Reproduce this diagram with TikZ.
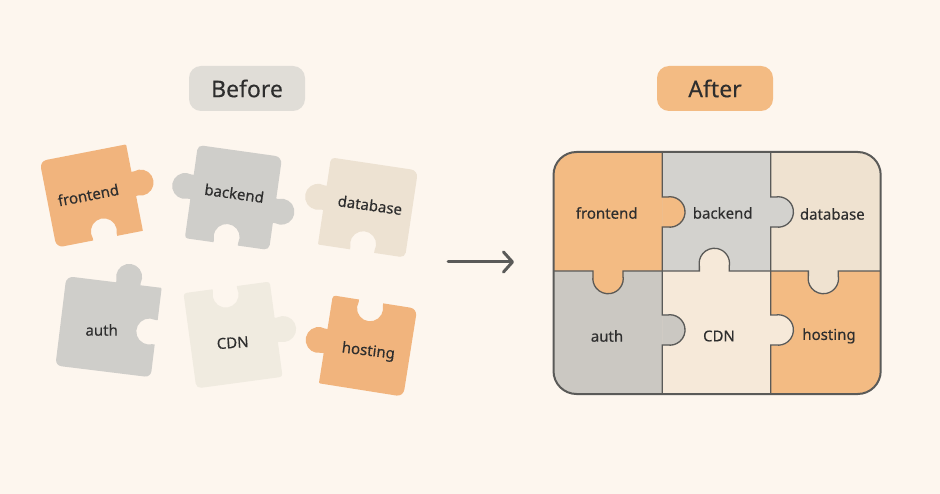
\documentclass[tikz,border=0pt]{standalone}
\usepackage{fontspec}
\setmainfont{Noto Sans}
\usetikzlibrary{arrows.meta}
\definecolor{page_bg}{HTML}{FDF6EE}
\definecolor{ink}{HTML}{2E2E2E}
\definecolor{board_ink}{HTML}{5A5A58}
\definecolor{loose_orange}{HTML}{F1B47D}
\definecolor{loose_grey}{HTML}{CFCECA}
\definecolor{loose_sand}{HTML}{EDE2D2}
\definecolor{loose_cream}{HTML}{F0EBE0}
\definecolor{cell_orange}{HTML}{F3BB83}
\definecolor{cell_grey}{HTML}{D3D2CE}
\definecolor{cell_sand}{HTML}{EFE2D0}
\definecolor{cell_dark}{HTML}{CBC8C2}
\definecolor{cell_cream}{HTML}{F6E9D9}
\definecolor{tag_grey}{HTML}{E0DDD7}
\tikzstyle{piece_label}=[text=ink,font=\fontsize{15}{18}\selectfont\addfontfeature{FakeBold=0.3},inner sep=0pt]
\tikzstyle{tag}=[text=ink,font=\fontsize{23}{28}\selectfont\addfontfeature{FakeBold=0.3},rounded corners=12pt,minimum width=116pt,minimum height=45pt,inner sep=0pt]
\tikzstyle{board_line}=[draw=board_ink,line width=1.3pt]
\tikzstyle{board_tab}=[line width=0.8pt]
\tikzstyle{transition}=[-{Straight Barb[length=9pt,width=20pt,round]},draw=board_ink,line width=3pt,line cap=round]
% one side of a loose piece: heading, length, (tab offset,) start and end corner radius
\newcommand{\sideflat}[4]{-- ++(#1:#2-#3-#4) arc (#1+90:#1:#4)}
\newcommand{\sideknob}[5]{-- ++(#1:#2/2+#3-12.2-#4) -- ++(#1+90:2.5) arc (#1+180+20:#1-20:13) -- ++(#1-90:2.5) -- ++(#1:#2/2-#3-12.2-#5) arc (#1+90:#1:#5)}
\newcommand{\sidenotch}[5]{-- ++(#1:#2/2+#3-12.2-#4) -- ++(#1-90:2.5) arc (#1+180-20:#1+360+20:13) -- ++(#1+90:2.5) -- ++(#1:#2/2-#3-12.2-#5) arc (#1+90:#1:#5)}
% tabs of the assembled board
\newcommand{\boardknob}[1]{-- ++(#1+90:4.9) arc (#1+180+10:#1-10:15.2) -- ++(#1-90:4.9)}
\newcommand{\boardnotch}[1]{-- ++(#1-90:4.9) arc (#1+180-10:#1+360+10:15.2) -- ++(#1+90:4.9)}
\begin{document}
\begin{tikzpicture}[x=1pt,y=1pt]
	\useasboundingbox (0,0) rectangle (940,-494);
	\fill [page_bg] (0,0) rectangle (940,-494);

	% before
	\begin{scope}[shift={(91.3,-196)},rotate=11]
		\fill [loose_orange] (-37,44) \sideflat{0}{88}{7}{1} \sideknob{-90}{88}{-3.8}{1}{0.5} \sidenotch{180}{88}{-5.6}{0.5}{7} \sideflat{90}{88}{7}{7} -- cycle;
	\end{scope}
	\begin{scope}[shift={(233.5,-197.5)},rotate=-8]
		\fill [loose_grey] (-37.5,47) \sideflat{0}{85}{5}{7} \sideknob{-90}{94}{7.4}{7}{5} \sidenotch{180}{85}{1.3}{5}{3} \sideknob{90}{94}{4.7}{3}{5} -- cycle;
	\end{scope}
	\begin{scope}[shift={(368,-207.5)},rotate=-8.5]
		\fill [loose_sand] (-40,44) \sideflat{0}{88}{4}{7} \sideflat{-90}{88}{7}{5} \sidenotch{180}{88}{-0.6}{5}{1} \sideknob{90}{88}{3.2}{1}{4} -- cycle;
	\end{scope}
	\begin{scope}[shift={(108.5,-326.7)},rotate=-7]
		\fill [loose_grey] (-41,45) \sideknob{0}{96}{14.4}{7}{1} \sidenotch{-90}{90}{-0.2}{1}{6} \sideflat{180}{96}{6}{6} \sideflat{90}{90}{6}{7} -- cycle;
	\end{scope}
	\begin{scope}[shift={(233,-335)},rotate=7.7]
		\fill [loose_cream] (-40.5,48) \sidenotch{0}{87}{-1.9}{3}{3} \sideknob{-90}{96}{0.8}{3}{3} \sideflat{180}{87}{3}{5} \sideflat{90}{96}{5}{3} -- cycle;
	\end{scope}
	\begin{scope}[shift={(368,-346)},rotate=-9]
		\fill [loose_orange] (-39.7,44.5) \sidenotch{0}{85.4}{-3.9}{3}{7} \sideflat{-90}{89}{7}{7} \sideflat{180}{85.4}{7}{1} \sideknob{90}{89}{-1.8}{1}{3} -- cycle;
	\end{scope}

	\node [style=tag,fill=tag_grey] (before) at (247,-88.5) {Before};
	\node [style=piece_label,rotate=11] (frontend_loose) at (88.3,-195) {frontend};
	\node [style=piece_label,rotate=-8] (backend_loose) at (234.3,-193.3) {backend};
	\node [style=piece_label,rotate=-8] (database_loose) at (370,-205) {database};
	\node [style=piece_label] (auth_loose) at (101.7,-330) {auth};
	\node [style=piece_label,rotate=4] (cdn_loose) at (232.7,-342.7) {CDN};
	\node [style=piece_label,rotate=-7] (hosting_loose) at (368.3,-351.7) {hosting};

	\coordinate (arrow_start) at (448,-262);
	\coordinate (arrow_end) at (514,-262);
	\draw [style=transition] (arrow_start) to (arrow_end);

	% after
	\begin{scope}
		\clip [rounded corners=23pt] (553.5,-152) rectangle (880.7,-394);
		\fill [cell_orange] (553.5,-152) rectangle (662.3,-271);
		\fill [cell_grey] (662.3,-152) rectangle (770.7,-271);
		\fill [cell_sand] (770.7,-152) rectangle (880.7,-271);
		\fill [cell_dark] (553.5,-271) rectangle (662.3,-394);
		\fill [cell_cream] (662.3,-271) rectangle (770.7,-394);
		\fill [cell_orange] (770.7,-271) rectangle (880.7,-394);
		\filldraw [style=board_tab,cell_orange] (662.3,-197) \boardknob{-90} -- cycle;
		\filldraw [style=board_tab,cell_grey] (770.7,-197) \boardknob{-90} -- cycle;
		\filldraw [style=board_tab,cell_dark] (662.3,-315) \boardknob{-90} -- cycle;
		\filldraw [style=board_tab,cell_cream] (770.7,-315) \boardknob{-90} -- cycle;
		\filldraw [style=board_tab,cell_sand] (838.3,-271) \boardknob{180} -- cycle;
		\filldraw [style=board_tab,cell_cream] (729.3,-271) \boardnotch{180} -- cycle;
		\filldraw [style=board_tab,cell_orange] (623,-271) \boardknob{180} -- cycle;
	\end{scope}
	\draw [style=board_line] (662.3,-152) -- (662.3,-197) \boardknob{-90} -- (662.3,-315) \boardknob{-90} -- (662.3,-394);
	\draw [style=board_line] (770.7,-152) -- (770.7,-197) \boardknob{-90} -- (770.7,-315) \boardknob{-90} -- (770.7,-394);
	\draw [style=board_line] (880.7,-271) -- (838.3,-271) \boardknob{180} -- (729.3,-271) \boardnotch{180} -- (623,-271) \boardknob{180} -- (553.5,-271);
	\draw [style=board_line,line width=2pt,rounded corners=23pt] (553.5,-152) rectangle (880.7,-394);

	\node [style=tag,fill=cell_orange] (after) at (715,-88.5) {After};
	\node [style=piece_label] (frontend_cell) at (606.7,-213) {frontend};
	\node [style=piece_label] (backend_cell) at (722.7,-213) {backend};
	\node [style=piece_label] (database_cell) at (832.3,-214) {database};
	\node [style=piece_label] (auth_cell) at (607,-336) {auth};
	\node [style=piece_label] (cdn_cell) at (719,-336) {CDN};
	\node [style=piece_label] (hosting_cell) at (829,-336) {hosting};
\end{tikzpicture}
\end{document}
